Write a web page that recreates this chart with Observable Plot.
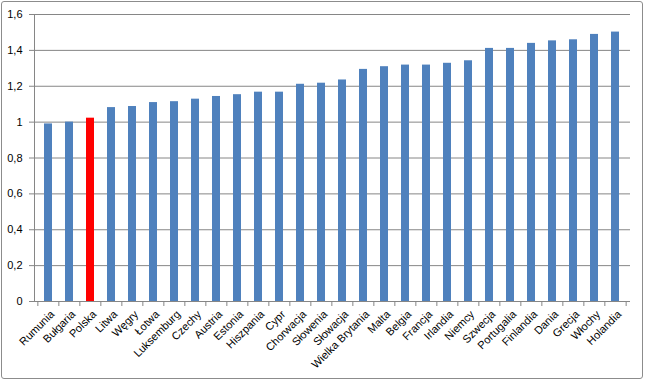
<!DOCTYPE html>
<html><head><meta charset="utf-8">
<script src="https://cdn.jsdelivr.net/npm/d3@7"></script>
<script src="https://cdn.jsdelivr.net/npm/@observablehq/plot@0.6"></script>
<style>
html,body{margin:0;padding:0;background:#fff}
#wrap{position:relative;width:645px;height:381px}
#frame{position:absolute;left:1px;top:1px;width:642px;height:378px;border:1px solid #8c8c8c;border-radius:3px;box-sizing:border-box;pointer-events:none}
</style></head><body>
<div id="wrap"><div id="chart"></div><div id="frame"></div></div>
<script>
const countries = ["Rumunia","Bułgaria","Polska","Litwa","Węgry","Łotwa","Luksemburg","Czechy","Austria","Estonia","Hiszpania","Cypr","Chorwacja","Słowenia","Słowacja","Wielka Brytania","Malta","Belgia","Francja","Irlandia","Niemcy","Szwecja","Portugalia","Finlandia","Dania","Grecja","Włochy","Holandia"];
const values = [0.99,1.0,1.022,1.081,1.087,1.109,1.114,1.128,1.143,1.153,1.167,1.167,1.211,1.217,1.235,1.294,1.309,1.318,1.318,1.328,1.342,1.411,1.411,1.439,1.453,1.459,1.489,1.502];
const highlight = "Polska";
const yTicks = [0,0.2,0.4,0.6,0.8,1,1.2,1.4,1.6];
const data = countries.map((c,i)=>({country:c, value:values[i]}));

const W = 645, H = 381, ML = 34, MR = 15, MT = 14, MB = 80;
const step = (W - ML - MR) / countries.length;
const grey = "#868686";

const plot = Plot.plot({
  width: W, height: H,
  marginLeft: ML, marginRight: MR, marginTop: MT, marginBottom: MB,
  style: {fontFamily: "Liberation Sans, Arial, sans-serif", fontSize: "11px", color: "#000", background: "#fff"},
  x: {domain: countries, paddingInner: 0.6, paddingOuter: 0.3, label: null},
  y: {domain: [0, 1.6], label: null},
  marks: [
    Plot.gridY(yTicks.filter(d => d > 0), {stroke: grey, strokeOpacity: 1}),
    Plot.barY(data, {x: "country", y: "value", fill: d => d.country === highlight ? "#FF0000" : "#4F81BD"}),
    Plot.ruleY([0], {stroke: grey}),
    Plot.frame({anchor: "left", stroke: grey}),
    Plot.axisY(yTicks, {tickSize: 5, tickPadding: 7, stroke: grey, tickFormat: d => String(d).replace(".", ","), label: null}),
    Plot.axisX(countries, {tickSize: 5, tickFormat: () => "", stroke: grey, dx: -step / 2, label: null}),
    Plot.axisX([countries[countries.length - 1]], {tickSize: 5, tickFormat: () => "", stroke: grey, dx: step / 2, label: null}),
    Plot.axisX(countries, {tickSize: 0, tickRotate: -45, tickPadding: 11, dx: 4, label: null, fill: "#000"})
  ]
});
document.getElementById("chart").appendChild(plot);
</script>
</body></html>
